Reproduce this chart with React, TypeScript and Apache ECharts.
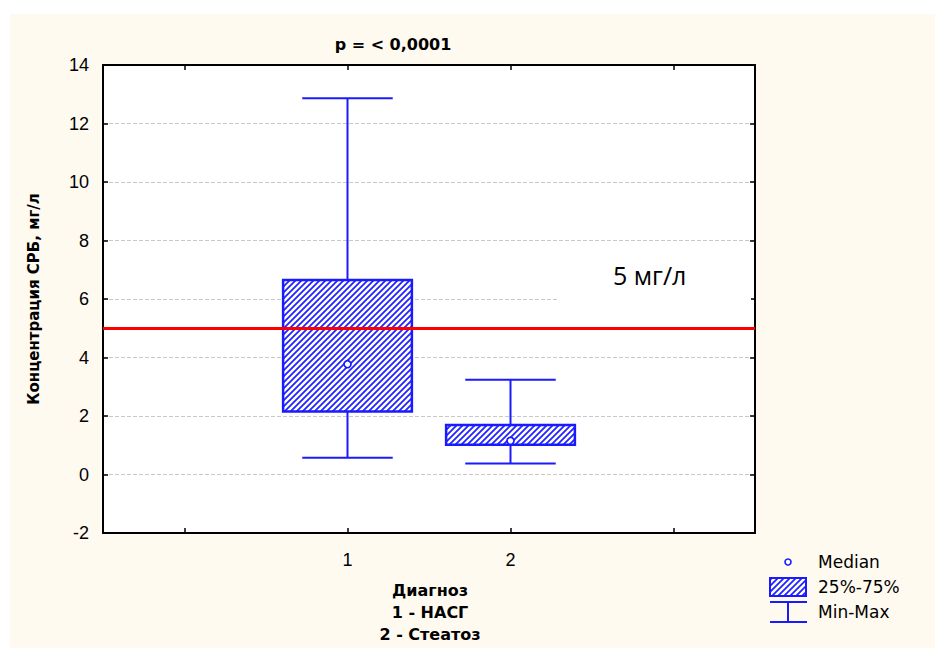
import React, { useEffect, useRef } from "react";
import * as echarts from "echarts";

const categories = ["0", "1", "2", "3"];
const shownLabels = ["1", "2"];
// [category index, min, q1, q3, max]
const boxIndex = [1, 2];
const minValues = [0.57, 0.38];
const q1Values = [2.15, 1.02];
const q3Values = [6.65, 1.69];
const maxValues = [12.86, 3.24];
const medianValues = [3.77, 1.15];
const referenceLevel = 5;
const yTicks = { min: -2, max: 14, interval: 2 };

const BLUE = "#1a1aff";

function makePattern(): HTMLCanvasElement {
  const c = document.createElement("canvas");
  const s = 6;
  c.width = s;
  c.height = s;
  const ctx = c.getContext("2d")!;
  ctx.fillStyle = "#ffffff";
  ctx.fillRect(0, 0, s, s);
  ctx.strokeStyle = "#2222ff";
  ctx.lineWidth = 1.8;
  ctx.beginPath();
  ctx.moveTo(-1, s + 1);
  ctx.lineTo(s + 1, -1);
  ctx.moveTo(-1, 1);
  ctx.lineTo(1, -1);
  ctx.moveTo(s - 1, s + 1);
  ctx.lineTo(s + 1, s - 1);
  ctx.stroke();
  return c;
}

export default function App() {
  const ref = useRef<HTMLDivElement>(null);
  useEffect(() => {
    document.body.style.margin = "0";
    const chart = echarts.init(ref.current!, undefined, { renderer: "svg" });
    const pattern = { image: makePattern(), repeat: "repeat" };
    const boxData = boxIndex.map((x, i) => [x, minValues[i], q1Values[i], q3Values[i], maxValues[i]]);
    const medianData = boxIndex.map((x, i) => [x, medianValues[i]]);

    const commonY = {
      type: "value",
      min: yTicks.min,
      max: yTicks.max,
      interval: yTicks.interval,
      axisLine: { show: true, onZero: false, lineStyle: { color: "#000", width: 2 } },
      axisTick: { show: true, inside: true, length: 5, lineStyle: { color: "#000", width: 1.5 } },
    };
    const commonX = {
      type: "category",
      data: categories,
      boundaryGap: true,
      axisLine: { show: true, onZero: false, lineStyle: { color: "#000", width: 2 } },
      axisTick: { show: true, inside: true, alignWithLabel: true, length: 5, lineStyle: { color: "#000", width: 1.5 } },
      splitLine: { show: false },
    };

    chart.setOption({
      animation: false,
      backgroundColor: "#ffffff",
      title: {
        text: "p = < 0,0001",
        left: 388,
        top: 31,
        textAlign: "center",
        textStyle: { fontFamily: "DejaVu Sans", fontWeight: "bold", fontSize: 16, color: "#000" },
      },
      grid: {
        left: 103,
        right: 180,
        top: 65,
        bottom: 115,
        show: true,
        backgroundColor: "#ffffff",
        borderWidth: 0,
      },
      xAxis: [
        {
          ...commonX,
          position: "bottom",
          axisLabel: {
            show: true,
            margin: 18,
            fontSize: 18,
            color: "#000",
            fontFamily: "Liberation Sans",
            formatter: (v: string) => (shownLabels.includes(v) ? v : ""),
          },
        },
        { ...commonX, position: "top", axisLabel: { show: false } },
      ],
      yAxis: [
        {
          ...commonY,
          position: "left",
          axisLabel: { show: true, margin: 14, fontSize: 18, color: "#000", fontFamily: "Liberation Sans" },
          splitLine: { show: true, lineStyle: { color: "#c8c8c8", type: "dashed", width: 1 } },
          name: "Концентрация СРБ, мг/л",
          nameLocation: "middle",
          nameGap: 62,
          nameTextStyle: { fontFamily: "DejaVu Sans", fontWeight: "bold", fontSize: 15, color: "#000" },
        },
        { ...commonY, position: "right", axisLabel: { show: false }, splitLine: { show: false } },
      ],
      graphic: [
        { type: "rect", z: -10, silent: true, shape: { x: 10, y: 14, width: 925, height: 634 }, style: { fill: "#fffaf0" } },
        { type: "rect", z: 1, silent: true, shape: { x: 557, y: 294, width: 194, height: 10 }, style: { fill: "#ffffff" } },
        {
          type: "text",
          left: 613,
          top: 262,
          z: 10,
          style: { text: "5 мг/л", fontFamily: "Open Sans", fontSize: 25, fill: "#000" },
        },
        {
          type: "text",
          x: 430,
          y: 579,
          z: 10,
          style: {
            text: "Диагноз\n1 - НАСГ\n2 - Стеатоз",
            fontFamily: "DejaVu Sans",
            fontWeight: "bold",
            fontSize: 16,
            lineHeight: 22,
            align: "center",
            fill: "#000",
          },
        },
        // legend
        { type: "circle", z: 10, shape: { cx: 788, cy: 562, r: 3 }, style: { fill: "#fff", stroke: BLUE, lineWidth: 1.6 } },
        { type: "rect", z: 10, shape: { x: 770, y: 578, width: 36, height: 18 }, style: { fill: pattern as any, stroke: BLUE, lineWidth: 2 } },
        { type: "line", z: 10, shape: { x1: 770, y1: 602, x2: 807, y2: 602 }, style: { stroke: BLUE, lineWidth: 2 } },
        { type: "line", z: 10, shape: { x1: 770, y1: 622, x2: 807, y2: 622 }, style: { stroke: BLUE, lineWidth: 2 } },
        { type: "line", z: 10, shape: { x1: 788, y1: 602, x2: 788, y2: 622 }, style: { stroke: BLUE, lineWidth: 2 } },
        { type: "text", z: 10, x: 818, y: 562, style: { text: "Median", fontFamily: "DejaVu Sans", fontSize: 17, fill: "#000", verticalAlign: "middle" } },
        { type: "text", z: 10, x: 818, y: 587, style: { text: "25%-75%", fontFamily: "DejaVu Sans", fontSize: 17, fill: "#000", verticalAlign: "middle" } },
        { type: "text", z: 10, x: 818, y: 612, style: { text: "Min-Max", fontFamily: "DejaVu Sans", fontSize: 17, fill: "#000", verticalAlign: "middle" } },
      ],
      series: [
        {
          type: "custom",
          z: 3,
          encode: { x: 0, y: [1, 2, 3, 4] },
          data: boxData,
          renderItem: (params: any, api: any) => {
            const x = api.value(0);
            const pMin = api.coord([x, api.value(1)]);
            const pQ1 = api.coord([x, api.value(2)]);
            const pQ3 = api.coord([x, api.value(3)]);
            const pMax = api.coord([x, api.value(4)]);
            const band = api.size([1, 0])[0];
            const bw = band * 0.79;
            const cw = band * 0.555;
            const cx = pMin[0];
            const ls = { stroke: BLUE, lineWidth: 2 };
            return {
              type: "group",
              children: [
                { type: "line", shape: { x1: cx, y1: pMax[1], x2: cx, y2: pQ3[1] }, style: ls },
                { type: "line", shape: { x1: cx, y1: pQ1[1], x2: cx, y2: pMin[1] }, style: ls },
                { type: "line", shape: { x1: cx - cw / 2, y1: pMax[1], x2: cx + cw / 2, y2: pMax[1] }, style: ls },
                { type: "line", shape: { x1: cx - cw / 2, y1: pMin[1], x2: cx + cw / 2, y2: pMin[1] }, style: ls },
                {
                  type: "rect",
                  shape: { x: cx - bw / 2, y: pQ3[1], width: bw, height: pQ1[1] - pQ3[1] },
                  style: { fill: pattern, stroke: BLUE, lineWidth: 2.5 },
                },
              ],
            };
          },
        },
        {
          type: "scatter",
          z: 5,
          data: medianData,
          symbol: "circle",
          symbolSize: 7,
          itemStyle: { color: "#ffffff", borderColor: BLUE, borderWidth: 1.7, opacity: 1 },
          markLine: {
            silent: true,
            symbol: "none",
            label: { show: false },
            lineStyle: { color: "#ff0000", width: 3, type: "solid", opacity: 1 },
            data: [{ yAxis: referenceLevel }],
          },
        },
      ],
    });
    return () => chart.dispose();
  }, []);
  return <div ref={ref} style={{ width: 935, height: 648 }} />;
}
